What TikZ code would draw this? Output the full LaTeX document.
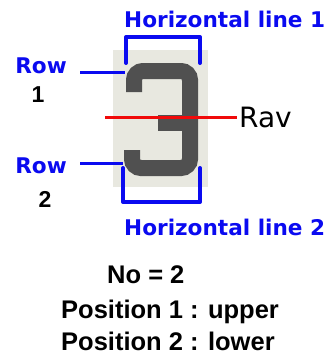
\documentclass[tikz,border=0pt]{standalone}
\usepackage{fontspec}
\newfontfamily\dvbold{DejaVu Sans Bold}
\newfontfamily\dvreg{DejaVu Sans}
\newfontfamily\libb{Liberation Sans Bold}
\definecolor{lblue}{RGB}{10,10,240}
\definecolor{digit}{RGB}{80,80,80}
\definecolor{panel}{RGB}{232,232,224}
\definecolor{rline}{RGB}{240,10,10}
\begin{document}
\begin{tikzpicture}[x=1pt,y=-1pt,
  bluelbl/.style={inner sep=0pt,text=lblue,font=\dvbold\fontsize{21.6}{26}\selectfont},
  blacknum/.style={inner sep=0pt,text=black,font=\libb\fontsize{23}{26}\selectfont},
  infotxt/.style={inner sep=0pt,text=black,font=\libb\fontsize{25.5}{30}\selectfont},
  bracket/.style={draw=lblue,line width=4pt,line cap=round,line join=round},
  rowline/.style={draw=lblue,line width=3pt},
  digitstroke/.style={draw=digit,line width=16pt,rounded corners=9pt}]
\useasboundingbox (0,0) rectangle (333,359);
% panel with digit
\node[fill=panel,inner sep=0pt,minimum width=95pt,minimum height=137pt,anchor=north west] (panel) at (113,50) {};
\draw[digitstroke] (134,92) -- (134,71) -- (190,71) -- (190,168) -- (132,168) -- (132,150);
\draw[digitstroke,rounded corners=0pt] (158,123) -- (190,123);
% coordinates
\coordinate (t1) at (126,63);
\coordinate (t2) at (200,63);
\coordinate (b1) at (123,168);
\coordinate (b2) at (200,168);
\coordinate (r1a) at (80,72);
\coordinate (r1b) at (125,72);
\coordinate (r2a) at (80,163);
\coordinate (r2b) at (123,163);
\coordinate (rava) at (105,117);
\coordinate (ravb) at (237,117);
% brackets
\draw[bracket] (t1) |- (163,37) -| (t2);
\draw[bracket] (b1) |- (163,202) -| (b2);
% row lines
\draw[rowline] (r1a) -- (r1b);
\draw[rowline] (r2a) -- (r2b);
% red line
\draw[draw=rline,line width=3pt] (rava) -- (ravb);
% labels
\node[bluelbl,anchor=base west] (h1) at (124,27) {Horizontal line 1};
\node[bluelbl,anchor=base west] (h2) at (124,235) {Horizontal line 2};
\node[bluelbl,anchor=base] (row1) at (41,73) {Row};
\node[bluelbl,anchor=base] (row2) at (41,173) {Row};
\node[blacknum,anchor=base] (n1) at (38,102) {1};
\node[blacknum,anchor=base] (n2) at (45,207) {2};
\node[inner sep=0pt,anchor=base west,font=\dvreg\fontsize{28}{30}\selectfont] (rav) at (239,127) {Rav};
\node[infotxt,anchor=base west] (no) at (107,283) {No = 2};
\node[infotxt,anchor=base west] (p1) at (61,318) {Position 1 : upper};
\node[infotxt,anchor=base west] (p2) at (61,350) {Position 2 : lower};
\end{tikzpicture}
\end{document}
